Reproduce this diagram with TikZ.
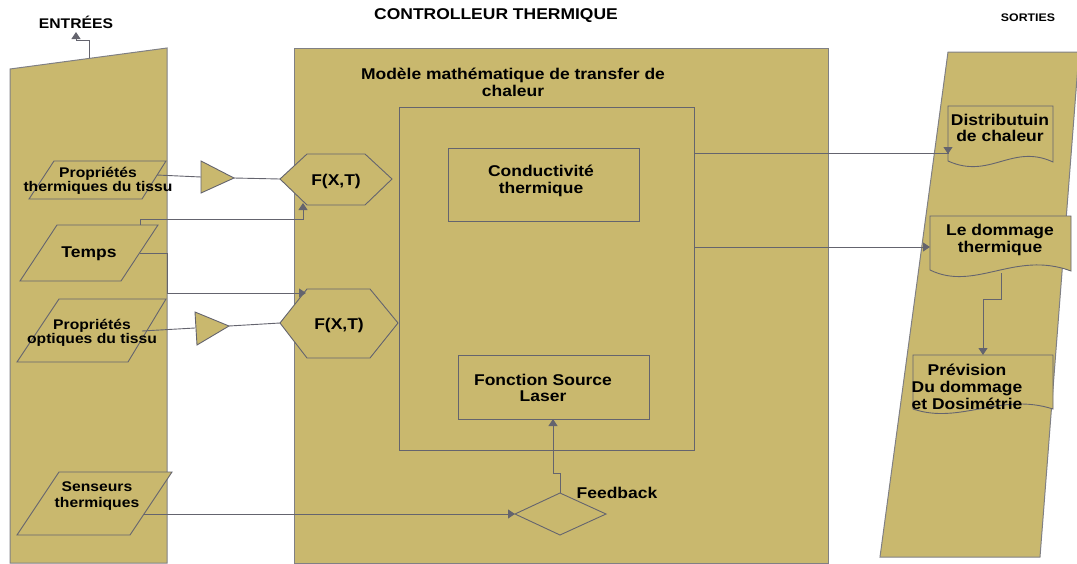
\documentclass[tikz,border=0pt]{standalone}
\usepackage{fontspec}
\setmainfont{Liberation Sans}[FakeStretch=1.12]
\usetikzlibrary{arrows.meta}
\definecolor{olivefill}{RGB}{201,184,110}
\definecolor{edgegray}{RGB}{100,100,110}
\definecolor{panelgray}{RGB}{128,128,132}
\tikzset{
  panel/.style={fill=olivefill,draw=panelgray,line width=1pt},
  shapebox/.style={fill=olivefill,draw=edgegray,line width=0.9pt},
  wire/.style={draw=edgegray,line width=0.9pt},
  arr/.style={wire,-{Triangle[length=7pt,width=9pt]}},
  big/.style={font=\bfseries\fontsize{15.6}{16.8}\selectfont,align=center,inner sep=0pt},
  small/.style={font=\bfseries\fontsize{14}{14.5}\selectfont,align=center,inner sep=0pt},
  head/.style={font=\bfseries\fontsize{14}{14}\selectfont,inner sep=0pt}
}
\begin{document}
\begin{tikzpicture}[x=1pt,y=-1pt]
\useasboundingbox (0,0) rectangle (1077,563);
% panels
\path[panel] (10,69) -- (167,48) -- (167,563) -- (10,563) -- cycle;
\path[panel] (294,48) rectangle (828,563);
\path[panel] (948,52) -- (1079,52) -- (1040,557) -- (880,557) -- cycle;
% headings
\node[head] (entrees) at (76,22) {ENTRÉES};
\node[head,font=\bfseries\fontsize{15.6}{16}\selectfont] (ctrl) at (496,16) {CONTROLLEUR THERMIQUE};
\node[head,font=\bfseries\fontsize{11}{11}\selectfont] (sorties) at (1028,18) {SORTIES};
\coordinate (entA) at (89,58);
\coordinate (entB) at (76,32);
\draw[arr] (entA) -- (89,40) -| (entB);
% model
\node[big] (model) at (513,82) {Modèle mathématique de transfer de\\chaleur};
\path[shapebox] (399,107) rectangle (694,450);
\coordinate (innerA) at (694,153);
\coordinate (innerB) at (694,247);
\path[shapebox] (448,148) rectangle (639,221);
\node[big] (cond) at (541,181) {Conductivité\\thermique};
\path[shapebox] (458,355) rectangle (649,419);
\node[big] (laser) at (543,388) {Fonction Source\\Laser};
\coordinate (laserS) at (553,419);
% feedback diamond
\path[shapebox] (515,514) -- (560,493) -- (606,514) -- (560,535) -- cycle;
\coordinate (diaW) at (515,514);
\coordinate (diaN) at (560,493);
\node[big] (fb) at (617,493) {Feedback};
% inputs
\path[shapebox] (54,161) -- (166,161) -- (142,199) -- (29,199) -- cycle;
\node[small] (pth) at (98,181) {Propriétés\\thermiques du tissu};
\path[shapebox] (57,225) -- (158,225) -- (121,281) -- (20,281) -- cycle;
\node[big] (temps) at (89,254) {Temps};
\path[shapebox] (59,299) -- (166,299) -- (128,362) -- (17,362) -- cycle;
\node[small] (popt) at (92,333) {Propriétés\\optiques du tissu};
\path[shapebox] (59,472) -- (172,472) -- (130,535) -- (17,535) -- cycle;
\node[small,font=\bfseries\fontsize{14}{15.5}\selectfont] (sens) at (97,496) {Senseurs\\thermiques};
% triangles
\path[shapebox] (201,161) -- (234,178) -- (201,193) -- cycle;
\path[shapebox] (195,312) -- (229,326) -- (197,345) -- cycle;
\coordinate (tri1W) at (201,177);
\coordinate (tri1E) at (234,178);
\coordinate (tri2W) at (195,328);
\coordinate (tri2E) at (229,326);
% hexagons
\path[shapebox] (280,179) -- (307,154) -- (365,154) -- (392,179) -- (365,205) -- (307,205) -- cycle;
\node[big] (hex1) at (336,181) {F(X,T)};
\path[shapebox] (280,323) -- (307,289) -- (370,289) -- (398,323) -- (370,358) -- (307,358) -- cycle;
\node[big] (hex2) at (339,325) {F(X,T)};
\coordinate (hex1W) at (280,179);
\coordinate (hex1S) at (303,203);
\coordinate (hex2W) at (280,323);
\coordinate (hex2N) at (306,293);
% outputs
\path[shapebox] (948,106) -- (1053,106) -- (1053,162) .. controls (1012,143) and (990,180) .. (948,161) -- cycle;
\node[big] (dist) at (1000,128) {Distributuin\\de chaleur};
\path[shapebox] (930,216) -- (1071,216) -- (1071,271) .. controls (1015,250) and (975,292) .. (930,270) -- cycle;
\node[big] (dom) at (1000,240) {Le dommage\\thermique};
\path[shapebox] (913,355) -- (1053,355) -- (1053,409) .. controls (1000,392) and (960,425) .. (913,409) -- cycle;
\node[big,font=\bfseries\fontsize{15.6}{17}\selectfont] (prev) at (967,387) {Prévision\\Du dommage\\et Dosimétrie};
\coordinate (distW) at (948,154);
\coordinate (domW) at (930,247);
\coordinate (domS) at (1001,273);
\coordinate (prevN) at (983,355);
% connectors
\coordinate (pthE) at (157,175);
\coordinate (temN) at (140,225);
\coordinate (temE) at (140,253);
\coordinate (poptE) at (142,331);
\coordinate (sensE) at (144,514);
\draw[wire] (pthE) -- (tri1W);
\draw[wire] (tri1E) -- (hex1W);
\draw[arr] (temN) -- (140,219) -| (hex1S);
\draw[arr] (temE) -- (167,253) |- (hex2N);
\draw[wire] (poptE) -- (tri2W);
\draw[wire] (tri2E) -- (hex2W);
\draw[arr] (sensE) -- (diaW);
\draw[arr] (diaN) -- (560,473) -| (laserS);
\draw[arr] (innerA) -| (distW);
\draw[arr] (innerB) -- (domW);
\draw[arr] (domS) -- (1001,299) -| (prevN);
\end{tikzpicture}
\end{document}
